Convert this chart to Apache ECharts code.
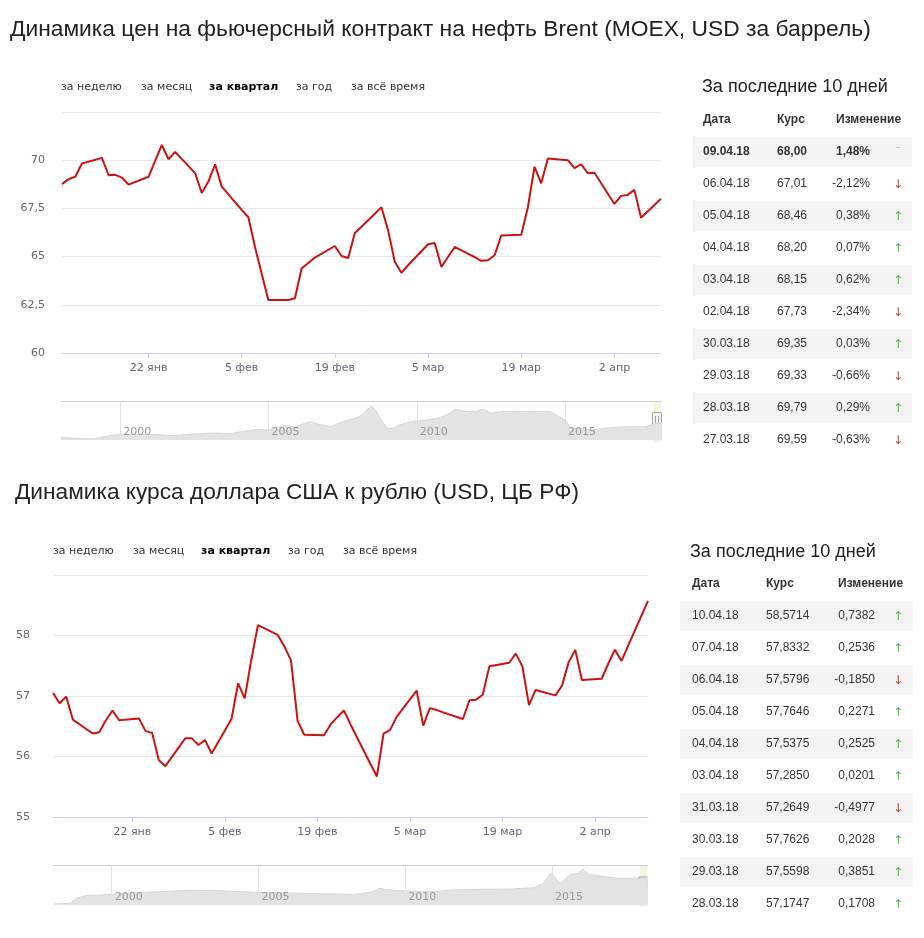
<!DOCTYPE html>
<html><head><meta charset="utf-8">
<script src="https://cdn.jsdelivr.net/npm/echarts@6/dist/echarts.min.js"></script>
<style>html,body{margin:0;padding:0;background:#fff}#c{width:924px;height:938px}</style>
</head><body><div id="c"></div><script>
// ---------- DATA ----------
const brentTitle = 'Динамика цен на фьючерсный контракт на нефть Brent (MOEX, USD за баррель)';
const usdTitle = 'Динамика курса доллара США к рублю (USD, ЦБ РФ)';
const rangeButtons = ['за неделю','за месяц','за квартал','за год','за всё время'];
const selectedButton = 'за квартал';
const tickDates = ['2018-01-22','2018-02-05','2018-02-19','2018-03-05','2018-03-19','2018-04-02'];
const monthNames = ['янв','фев','мар','апр','май','июн','июл','авг','сен','окт','ноя','дек'];
const navYearTicks = [2000,2005,2010,2015];

const brentDates = ['2018-01-09','2018-01-10','2018-01-11','2018-01-12','2018-01-15','2018-01-16','2018-01-17','2018-01-18','2018-01-19','2018-01-22','2018-01-23','2018-01-24','2018-01-25','2018-01-26','2018-01-29','2018-01-30','2018-01-31',
'2018-02-01','2018-02-02','2018-02-05','2018-02-06','2018-02-07','2018-02-08','2018-02-09','2018-02-12','2018-02-13','2018-02-14','2018-02-15','2018-02-16','2018-02-19','2018-02-20','2018-02-21','2018-02-22','2018-02-23','2018-02-26','2018-02-27','2018-02-28',
'2018-03-01','2018-03-02','2018-03-05','2018-03-06','2018-03-07','2018-03-08','2018-03-09','2018-03-12','2018-03-13','2018-03-14','2018-03-15','2018-03-16','2018-03-19','2018-03-20','2018-03-21','2018-03-22','2018-03-23','2018-03-26','2018-03-27','2018-03-28','2018-03-29','2018-03-30',
'2018-04-02','2018-04-03','2018-04-04','2018-04-05','2018-04-06','2018-04-09'];
const brentValues = [68.76,69.02,69.14,69.83,70.12,69.22,69.24,69.10,68.73,69.14,69.97,70.79,70.05,70.43,69.33,68.30,68.90,
69.79,68.63,67.42,67.04,65.50,64.12,62.75,62.75,62.84,64.38,64.67,64.95,65.55,65.03,64.93,66.22,66.55,67.56,66.36,64.73,
64.16,64.55,65.64,65.70,64.47,64.98,65.50,64.97,64.78,64.81,65.07,66.10,66.13,67.56,69.66,68.80,70.09,70.00,69.59,69.79,69.33,69.35,
67.73,68.15,68.20,68.46,67.01,68.00];

const usdDates = ['2018-01-10','2018-01-11','2018-01-12','2018-01-13','2018-01-16','2018-01-17','2018-01-18','2018-01-19','2018-01-20','2018-01-23','2018-01-24','2018-01-25','2018-01-26','2018-01-27','2018-01-30','2018-01-31',
'2018-02-01','2018-02-02','2018-02-03','2018-02-06','2018-02-07','2018-02-08','2018-02-09','2018-02-10','2018-02-13','2018-02-14','2018-02-15','2018-02-16','2018-02-17','2018-02-20','2018-02-21','2018-02-22','2018-02-23','2018-02-24','2018-02-27','2018-02-28',
'2018-03-01','2018-03-02','2018-03-03','2018-03-06','2018-03-07','2018-03-08','2018-03-09','2018-03-10','2018-03-13','2018-03-14','2018-03-15','2018-03-16','2018-03-17','2018-03-20','2018-03-21','2018-03-22','2018-03-23','2018-03-24','2018-03-27','2018-03-28','2018-03-29','2018-03-30','2018-03-31',
'2018-04-03','2018-04-04','2018-04-05','2018-04-06','2018-04-07','2018-04-10'];
const usdValues = [57.05,56.88,56.99,56.61,56.38,56.40,56.60,56.76,56.60,56.63,56.42,56.39,55.94,55.84,56.30,56.30,
56.19,56.27,56.05,56.62,57.21,56.96,57.60,58.17,58.01,57.82,57.59,56.59,56.36,56.35,56.53,56.65,56.76,56.53,55.88,55.67,
56.38,56.44,56.66,57.09,56.51,56.80,56.77,56.73,56.62,56.93,56.94,57.02,57.49,57.55,57.70,57.49,56.85,57.10,57.01,57.1747,57.5598,57.7626,57.2649,
57.2850,57.5375,57.7646,57.5796,57.8332,58.5714];

const brentNavYears = [1998.0,1998.5,1999.1,1999.5,2000.0,2000.5,2001.0,2001.4,2001.9,2002.3,2002.9,2003.2,2003.7,2004.1,2004.6,2005.0,2005.5,2005.9,2006.4,2006.7,2007.1,2007.5,2008.0,2008.2,2008.4,2008.5,2008.6,2008.8,2009.0,2009.2,2009.4,2009.8,2010.0,2010.3,2010.7,2011.0,2011.3,2011.7,2012.0,2012.25,2012.5,2012.8,2013.2,2013.6,2014.1,2014.5,2014.7,2015.0,2015.2,2015.4,2015.9,2016.3,2016.8,2017.2,2017.7,2018.1,2018.27];
const brentNavValues = [14.6,11.0,9.0,18.2,25.3,25.3,25.3,23.0,20.6,25.3,28.9,30.1,27.7,34.9,43.3,40.9,56.5,52.9,70.8,61.2,52.9,70.8,85.2,100.7,121.1,127.1,112.7,76.8,46.9,46.9,58.8,70.8,73.2,76.8,82.8,94.7,115.1,106.7,106.7,116.3,100.7,106.7,106.7,106.7,106.7,106.7,94.7,76.8,46.9,46.9,40.9,46.9,50.5,52.9,52.9,64.8,64.8];
const usdNavYears = [1998.05,1998.6,1998.8,1999.1,2000.0,2001.1,2002.4,2003.3,2005.0,2007.0,2008.3,2008.9,2009.1,2009.4,2010.0,2011.0,2011.6,2012.3,2013.6,2014.4,2014.7,2014.9,2015.0,2015.2,2015.3,2015.6,2015.9,2016.05,2016.25,2016.8,2017.3,2017.8,2018.1,2018.27];
const usdNavValues = [2.3,3.8,15,21,24,28.5,32.3,33,28.5,25.5,24,30,37.5,34.5,31.5,30,33.8,35.3,36,39,48.8,67.5,71.3,52.5,48.8,67.5,71.3,81,69,63.8,60,60,58.5,63.8];

const tableTitle = 'За последние 10 дней';
const tableHeaders = ['Дата','Курс','Изменение'];
const brentTableDates = ['09.04.18','06.04.18','05.04.18','04.04.18','03.04.18','02.04.18','30.03.18','29.03.18','28.03.18','27.03.18'];
const brentTableRates = ['68,00','67,01','68,46','68,20','68,15','67,73','69,35','69,33','69,79','69,59'];
const brentTableChanges = ['1,48%','-2,12%','0,38%','0,07%','0,62%','-2,34%','0,03%','-0,66%','0,29%','-0,63%'];
const usdTableDates = ['10.04.18','07.04.18','06.04.18','05.04.18','04.04.18','03.04.18','31.03.18','30.03.18','29.03.18','28.03.18'];
const usdTableRates = ['58,5714','57,8332','57,5796','57,7646','57,5375','57,2850','57,2649','57,7626','57,5598','57,1747'];
const usdTableChanges = ['0,7382','0,2536','-0,1850','0,2271','0,2525','0,0201','-0,4977','0,2028','0,3851','0,1708'];

// ---------- HELPERS ----------
function dayNum(s){const p=s.split('-').map(Number);return Date.UTC(p[0],p[1]-1,p[2])/864e5;}
function fmtDay(v){const d=new Date(Math.round(v)*864e5);return d.getUTCDate()+' '+monthNames[d.getUTCMonth()];}
function yearOfDay(s){const p=s.split('-').map(Number);const t0=Date.UTC(p[0],0,1);return p[0]+(Date.UTC(p[0],p[1]-1,p[2])-t0)/(365*864e5);}
const AX_FONT = 'DejaVu Sans';
const TXT_FONT = '"Liberation Sans", Arial, sans-serif';

function mainX(gi, dates){
  const tv = tickDates.map(dayNum);
  return {type:'value', gridIndex:gi, min:dayNum(dates[0]), max:dayNum(dates[dates.length-1]),
    axisLine:{show:true,lineStyle:{color:'#ccd6eb'}},
    axisTick:{show:true,length:5,lineStyle:{color:'#ccd6eb'},customValues:tv},
    axisLabel:{customValues:tv,formatter:fmtDay,color:'#666',fontSize:11,fontFamily:AX_FONT,margin:10},
    splitLine:{show:false}};
}
function mainY(gi,min,max,interval,margin){
  return {type:'value',gridIndex:gi,min:min,max:max,interval:interval,
    axisLine:{show:false},axisTick:{show:false},
    splitLine:{show:true,lineStyle:{color:'#e6e6e6'}},
    axisLabel:{formatter:v=>v===max?'':String(v).replace('.',','),color:'#666',fontSize:11,fontFamily:AX_FONT,margin:margin}};
}
function navX(gi,endDate){
  return {type:'value',gridIndex:gi,min:1998,max:yearOfDay(endDate),z:10,
    axisLine:{show:false},axisTick:{show:false},splitLine:{show:false},
    axisLabel:{inside:true,customValues:navYearTicks,formatter:v=>String(v),
      align:'left',verticalAlign:'bottom',padding:[0,0,0,3],color:'#999',fontSize:11,fontFamily:AX_FONT,margin:2}};
}
function navSeries(xi,years,values){
  return {type:'line',xAxisIndex:xi,yAxisIndex:xi,data:years.map((y,i)=>[y,values[i]]),
    symbol:'none',showSymbol:false,silent:true,z:1,lineStyle:{width:1,color:'#d6d6d6'},areaStyle:{color:'#e3e3e3',opacity:1},
    markLine:{silent:true,symbol:'none',z:0,animation:false,label:{show:false},lineStyle:{color:'#e2e2e2',width:1,type:'solid'},
      data:navYearTicks.map(y=>({xAxis:y}))}};
}
function txt(x,y,text,font,fill,align){
  return {type:'text',x:x,y:y,silent:true,style:{text:text,font:font,fill:fill||'#333',
    textAlign:align||'left',textVerticalAlign:'middle'}};
}
function buttons(els,xs,y){
  rangeButtons.forEach((b,i)=>{
    const sel = b===selectedButton;
    els.push(txt(xs[i],y,b,(sel?'bold ':'normal ')+'11px "DejaVu Sans"',sel?'#000':'#333'));
  });
}
function table(els,L,dates,rates,changes,boldFirst){
  els.push(txt(L.titleX,L.titleY,tableTitle,'normal 18px '+TXT_FONT,'#222'));
  els.push(txt(L.cDate,L.hdrY,tableHeaders[0],'bold 12px '+TXT_FONT,'#333'));
  els.push(txt(L.cRate,L.hdrY,tableHeaders[1],'bold 12px '+TXT_FONT,'#333'));
  els.push(txt(L.cChgL,L.hdrY,tableHeaders[2],'bold 12px '+TXT_FONT,'#333'));
  dates.forEach((d,i)=>{
    const cy = L.row0 + i*L.rowH;
    if(i%2===0) els.push({type:'rect',silent:true,z:-1,shape:{x:L.bandX,y:cy-L.rowH/2+0.5,width:L.bandW,height:L.rowH-1},style:{fill:'#f3f3f3'}});
    const bold = boldFirst && i===0;
    const f = (bold?'bold ':'normal ')+'12px '+TXT_FONT;
    els.push(txt(L.cDate,cy,d,f,'#333'));
    els.push(txt(L.cRate,cy,rates[i],f,'#333'));
    els.push(txt(L.cChgR,cy,changes[i],f,'#333','right'));
    let arrow, col;
    if(bold){arrow='ˉ';col='#bbb';}
    else if(changes[i].charAt(0)==='-'){arrow='↓';col='#c0392b';}
    else {arrow='↑';col='#4caf50';}
    els.push(txt(L.arrowX,cy+1,arrow,'normal 12px "DejaVu Sans"',col,'center'));
  });
}
function navDecor(els,gx,gy,gw,gh){
  els.push({type:'line',silent:true,shape:{x1:gx,y1:gy+0.5,x2:gx+gw,y2:gy+0.5},style:{stroke:'#cfcfcf',lineWidth:1}});
  const hx = gx+gw-10;
  els.push({type:'rect',silent:true,shape:{x:hx+2,y:gy,width:7,height:gh+2},style:{fill:'rgba(214,226,170,0.35)'}});
  const hy = gy + gh/2 - 8.5;
  els.push({type:'rect',silent:true,shape:{x:hx+0.5,y:hy+0.5,width:9,height:17,r:1},style:{fill:'#f2f2f2',stroke:'#a0a0a0',lineWidth:1}});
  els.push({type:'line',silent:true,shape:{x1:hx+3.5,y1:hy+4,x2:hx+3.5,y2:hy+14},style:{stroke:'#a0a0a0',lineWidth:1}});
  els.push({type:'line',silent:true,shape:{x1:hx+6.5,y1:hy+4,x2:hx+6.5,y2:hy+14},style:{stroke:'#a0a0a0',lineWidth:1}});
}

// ---------- LAYOUT ----------
const G1 = {left:62, top:112, width:599, height:241};
const N1 = {left:61, top:401, width:601, height:39};
const G2 = {left:53, top:575, width:595, height:242};
const N2 = {left:53, top:865, width:595, height:40};

const els = [];
els.push(txt(10,30,brentTitle,'normal 22.8px '+TXT_FONT,'#222'));
els.push(txt(15,493,usdTitle,'normal 22.7px '+TXT_FONT,'#222'));
buttons(els,[61,141,209,296,351],87);
buttons(els,[53,133,201,288,343],551);
table(els,{titleX:702,titleY:87,hdrY:120,cDate:703,cRate:777,cChgL:836,cChgR:870,arrowX:898,row0:152,rowH:32,bandX:693,bandW:219},
  brentTableDates,brentTableRates,brentTableChanges,true);
table(els,{titleX:690,titleY:552,hdrY:584,cDate:692,cRate:766,cChgL:838,cChgR:875,arrowX:898,row0:616,rowH:32,bandX:680,bandW:233},
  usdTableDates,usdTableRates,usdTableChanges,false);
navDecor(els,N1.left,N1.top,N1.width,N1.height);
navDecor(els,N2.left,N2.top,N2.width,N2.height);

const chart = echarts.init(document.getElementById('c'),null,{renderer:'canvas'});
chart.setOption({
  animation:false,
  backgroundColor:'#fff',
  grid:[G1,N1,G2,N2],
  xAxis:[mainX(0,brentDates),navX(1,brentDates[brentDates.length-1]),mainX(2,usdDates),navX(3,usdDates[usdDates.length-1])],
  yAxis:[mainY(0,60,72.5,2.5,17),{type:'value',gridIndex:1,min:5,max:145,show:false},
         mainY(2,55,59,1,23),{type:'value',gridIndex:3,min:0,max:90,show:false}],
  series:[
    {type:'line',xAxisIndex:0,yAxisIndex:0,data:brentDates.map((d,i)=>[dayNum(d),brentValues[i]]),
      showSymbol:false,symbol:'none',z:3,lineStyle:{color:'#cc1111',width:2}},
    navSeries(1,brentNavYears,brentNavValues),
    {type:'line',xAxisIndex:2,yAxisIndex:2,data:usdDates.map((d,i)=>[dayNum(d),usdValues[i]]),
      showSymbol:false,symbol:'none',z:3,lineStyle:{color:'#cc1111',width:2}},
    navSeries(3,usdNavYears,usdNavValues)
  ],
  graphic:{elements:els}
});
</script></body></html>
